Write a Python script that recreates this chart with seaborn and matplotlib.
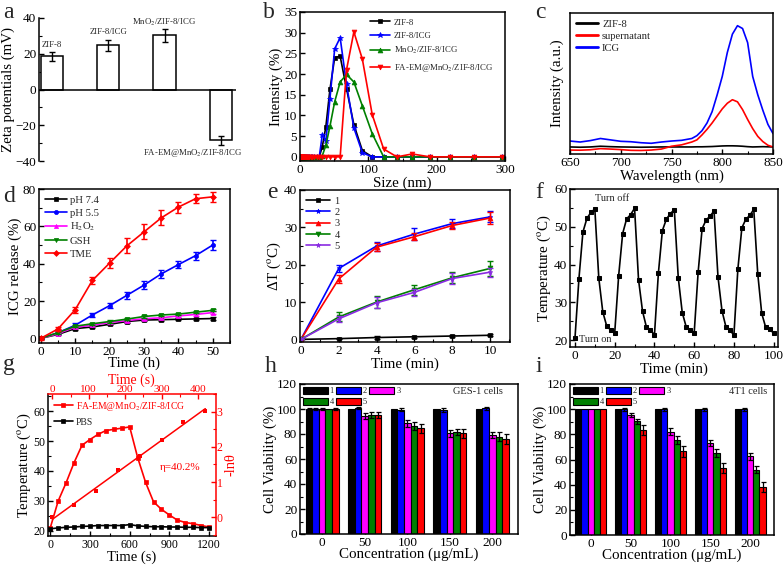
import numpy as np
import pandas as pd
import seaborn as sns
import matplotlib.pyplot as plt
import matplotlib.patches as mpatches
from matplotlib.container import BarContainer
from matplotlib.ticker import MultipleLocator

# ---------------- data ----------------
# a: zeta potentials
zeta_labels = ['ZIF-8', 'ZIF-8/ICG', 'MnO$_2$/ZIF-8/ICG', 'FA-EM@MnO$_2$/ZIF-8/ICG']
zeta_vals = [18.5, 24.8, 30.3, -28.5]
zeta_err = [2.5, 3.0, 3.5, 2.5]

# b: DLS size distribution
dls_size = [0.4, 0.463, 0.536, 0.621, 0.720, 0.833, 0.965, 1.117, 1.294, 1.499,
            1.736, 2.010, 2.328, 2.696, 3.122, 3.615, 4.187, 4.849, 5.615, 6.503,
            7.531, 8.721, 10.10, 11.70, 13.54, 15.69, 18.17, 21.04, 24.36, 28.21,
            32.67, 37.84, 43.82, 50.75, 58.77, 68.06, 78.82, 91.28, 105.7, 122.4,
            141.8, 164.2, 190.1, 220.2, 255.0, 295.3]
dls_zif8 = [0, 0, 0, 0, 0, 0, 0, 0, 0, 0, 0, 0, 0, 0, 0, 0, 0, 0, 0, 0, 0, 0, 0, 0, 0, 0, 0, 0, 0, 0,
            2.5, 7.3, 16.3, 24.0, 24.3, 16.5, 7.8, 1.5, 0, 0, 0, 0, 0, 0, 0, 0]
dls_zif8_icg = [0, 0, 0, 0, 0, 0, 0, 0, 0, 0, 0, 0, 0, 0, 0, 0, 0, 0, 0, 0, 0, 0, 0, 0, 0, 0, 0, 0, 0, 0,
                5.4, 3.8, 14.1, 26.1, 28.8, 17.5, 7.0, 1.0, 0, 0, 0, 0, 0, 0, 0, 0]
dls_mno2 = [0, 0, 0, 0, 0, 0, 0, 0, 0, 0, 0, 0, 0, 0, 0, 0, 0, 0, 0, 0, 0, 0, 0, 0, 0, 0, 0, 0, 0, 0,
            0.3, 2.8, 7.4, 13.3, 18.1, 19.9, 18.1, 12.3, 5.6, 0, 0, 0, 0, 0, 0, 0]
dls_faem = [0, 0, 0, 0, 0, 0, 0, 0, 0, 0, 0, 0, 0, 0, 0, 0, 0, 0, 0, 0, 0, 0, 0, 0, 0, 0, 0, 0, 0, 0,
            0, 0, 0, 0, 0, 21.0, 30.2, 23.6, 10.2, 1.9, 0, 0.7, 0, 0, 0, 0]

# c: absorbance spectra
wavelength = [650, 660, 670, 680, 690, 700, 710, 720, 730, 740, 750, 760, 770, 775, 780,
              785, 790, 795, 800, 805, 810, 815, 820, 825, 830, 835, 840, 845, 850]
spec_zif8 = [0.050, 0.048, 0.050, 0.055, 0.052, 0.050, 0.049, 0.048, 0.049, 0.050, 0.050, 0.050, 0.050,
             0.051, 0.051, 0.052, 0.053, 0.055, 0.057, 0.058, 0.058, 0.057, 0.055, 0.052, 0.050, 0.051,
             0.052, 0.051, 0.050]
spec_super = [0.028, 0.027, 0.030, 0.038, 0.035, 0.031, 0.026, 0.025, 0.028, 0.035, 0.055, 0.065, 0.085,
              0.100, 0.135, 0.175, 0.220, 0.270, 0.320, 0.360, 0.385, 0.370, 0.315, 0.245, 0.180, 0.125,
              0.088, 0.062, 0.050]
spec_icg = [0.092, 0.085, 0.095, 0.110, 0.100, 0.090, 0.087, 0.080, 0.076, 0.085, 0.092, 0.097, 0.110,
            0.130, 0.165, 0.220, 0.300, 0.420, 0.550, 0.720, 0.850, 0.910, 0.890, 0.790, 0.550, 0.420,
            0.310, 0.210, 0.145]

# d: ICG release
rel_time = [0, 5, 10, 15, 20, 25, 30, 35, 40, 45, 50]
rel_ph74 = [0, 2.1, 5.2, 6.1, 7.5, 9.0, 9.8, 10.0, 10.2, 10.4, 10.6]
rel_ph74_err = [0.3, 0.5, 0.6, 0.6, 0.6, 0.6, 0.6, 0.6, 0.6, 0.6, 0.6]
rel_ph55 = [0, 3.0, 7.0, 12.5, 17.5, 23.0, 28.5, 34.5, 39.5, 44.3, 50.0]
rel_ph55_err = [0.4, 0.8, 1.0, 1.2, 1.5, 1.8, 2.0, 2.0, 2.0, 2.2, 2.5]
rel_h2o2 = [0, 2.5, 6.0, 7.0, 8.5, 9.5, 10.5, 11.0, 12.0, 12.8, 13.8]
rel_h2o2_err = [0.3, 0.5, 0.6, 0.6, 0.6, 0.6, 0.6, 0.6, 0.6, 0.6, 0.6]
rel_gsh = [0, 3.0, 6.5, 7.8, 9.0, 10.3, 11.7, 12.5, 13.0, 14.0, 15.0]
rel_gsh_err = [0.3, 0.5, 0.6, 0.6, 0.6, 0.6, 0.6, 0.6, 0.6, 0.6, 0.6]
rel_tme = [0, 5.0, 15.3, 31.0, 40.3, 49.5, 57.0, 64.5, 70.3, 74.8, 75.8]
rel_tme_err = [0.8, 1.0, 1.5, 2.0, 2.5, 4.0, 4.0, 4.0, 3.0, 2.5, 2.5]

# e: temperature increase
heat_time = [0, 2, 4, 6, 8, 10]
dt_1 = [0, 0.2, 0.5, 0.7, 0.9, 1.1]
dt_1_err = [0, 0.2, 0.3, 0.3, 0.3, 0.3]
dt_2 = [0, 19.0, 25.0, 28.2, 31.0, 32.8]
dt_2_err = [0, 1.0, 1.2, 1.5, 1.2, 1.5]
dt_3 = [0, 16.2, 24.7, 27.5, 30.5, 32.5]
dt_3_err = [0, 1.0, 1.0, 1.0, 1.0, 1.5]
dt_4 = [0, 6.0, 10.0, 13.3, 16.5, 19.0]
dt_4_err = [0, 1.2, 1.5, 1.3, 1.5, 2.0]
dt_5 = [0, 5.5, 9.8, 12.6, 16.3, 18.0]
dt_5_err = [0, 0.8, 1.5, 1.0, 1.5, 1.2]

# f: on/off cycles
cycle_time = [0, 2, 4, 6, 8, 10, 12, 14, 16, 18, 20, 22, 24, 26, 28, 30, 32, 34, 36, 38, 40,
              42, 44, 46, 48, 50, 52, 54, 56, 58, 60, 62, 64, 66, 68, 70, 72, 74, 76, 78, 80,
              82, 84, 86, 88, 90, 92, 94, 96, 98, 100]
cycle_temp = [20.5, 36.3, 48.6, 52.2, 53.8, 54.7, 36.4, 27.5, 23.7, 22.7, 21.9,
              37.1, 48.2, 52.1, 53.2, 54.9, 36.0, 27.7, 23.4, 22.8, 21.3,
              37.8, 49.0, 52.0, 53.5, 54.5, 36.5, 27.3, 23.5, 22.6, 21.8,
              38.0, 49.5, 51.8, 52.8, 54.2, 36.7, 27.8, 23.5, 22.7, 21.3,
              38.8, 49.7, 52.0, 53.0, 54.6, 37.6, 27.1, 23.4, 23.0, 21.8]

# g: photothermal conversion
g_time = [0, 60, 120, 180, 240, 300, 360, 420, 480, 540, 600, 660, 720, 780, 840, 900,
          960, 1020, 1080, 1140, 1200]
g_faem = [21.0, 30.0, 36.1, 42.8, 48.6, 50.5, 52.2, 53.5, 53.9, 54.3, 54.7, 44.5, 36.2,
          29.7, 27.2, 25.3, 23.6, 22.8, 22.4, 21.8, 21.3]
g_pbs = [20.7, 21.0, 21.2, 21.3, 21.5, 21.6, 21.8, 21.8, 21.8, 21.8, 22.1, 21.7, 21.5,
         21.4, 21.4, 21.3, 21.3, 21.2, 21.2, 21.1, 21.1]
fit_time = [0, 60, 120, 180, 240, 300, 360, 420]
fit_lntheta = [0.0, 0.34, 0.75, 1.35, 1.75, 2.20, 2.70, 3.02]

# h, i: cell viability
conc_labels = ['0', '50', '100', '150', '200']
group_labels = ['1', '2', '3', '4', '5']
bar_colors = ['#000000', '#0000FF', '#FF00FF', '#008000', '#FF0000']
ges_vals = [[100, 100, 100, 100, 100],
            [100, 101, 99.5, 99, 100.5],
            [100, 94.5, 88.5, 80.5, 79],
            [100, 95, 86.5, 81.5, 78],
            [100, 95, 84.5, 80.5, 76]]
ges_err = [[1, 0, 0, 0, 0],
           [1, 1, 1, 1.5, 1.5],
           [1, 2.5, 2.5, 2.5, 2.5],
           [0, 2.5, 3.5, 2.5, 3.5],
           [1, 2.5, 3.5, 3.5, 4]]
t41_vals = [[100, 100, 100, 100, 100],
            [100, 99.8, 99.8, 99.8, 99.8],
            [100, 95.5, 82.2, 73.2, 62.5],
            [100, 90.3, 75.5, 65, 52],
            [100, 83.5, 66.5, 53, 38.5]]
t41_err = [[0, 0, 0, 0, 0],
           [0, 1, 1, 1, 1],
           [0, 1.5, 2.5, 2.5, 3],
           [0, 2, 3, 3, 3],
           [0, 4, 4.5, 4, 4]]

# ---------------- style ----------------
sns.set_theme(style="ticks")
plt.rcParams['font.family'] = ['Liberation Serif', 'DejaVu Serif']
plt.rcParams['mathtext.fontset'] = 'stix'
plt.rcParams.update({
    'xtick.direction': 'in', 'ytick.direction': 'in',
    'xtick.major.size': 3.5, 'ytick.major.size': 3.5,
    'xtick.minor.size': 2, 'ytick.minor.size': 2,
    'xtick.major.width': 1, 'ytick.major.width': 1,
    'xtick.minor.width': 0.8, 'ytick.minor.width': 0.8,
    'axes.linewidth': 1.1, 'axes.edgecolor': 'black',
    'xtick.color': 'black', 'ytick.color': 'black',
    'xtick.labelsize': 9.5, 'ytick.labelsize': 9.5,
    'axes.labelsize': 10.8, 'axes.labelcolor': 'black',
    'xtick.major.pad': 2, 'ytick.major.pad': 2,
    'axes.labelpad': 0.5,
})

W, H = 783, 565
fig = plt.figure(figsize=(W / 100, H / 100), dpi=100)


def box(l, t, r, b):
    return fig.add_axes([l / W, 1 - b / H, (r - l) / W, (b - t) / H])


def letter(x, y, s):
    fig.text(x / W, 1 - y / H, s, fontsize=17, va='baseline', ha='left')


def line(ax, x, y, color, marker, label, ms=3.5):
    sns.lineplot(x=x, y=y, color=color, marker=marker, markersize=ms, markeredgecolor=color,
                 markeredgewidth=0.5, lw=1.2, label=label, errorbar=None, ax=ax)


# ---- a ----
ax = box(39, 18, 236, 161)
sns.barplot(x=zeta_labels, y=zeta_vals, color='white', edgecolor='black', linewidth=1.1,
            width=0.4, saturation=1, errorbar=None, ax=ax)
ax.errorbar(range(4), zeta_vals, yerr=zeta_err, fmt='none', ecolor='black', elinewidth=1,
            capsize=2.5, capthick=1)
ax.set_xlim(-0.23, 3.27)
ax.set_ylim(-40, 40)
ax.axhline(0, color='black', lw=1.1)
for s in ['top', 'right', 'bottom']:
    ax.spines[s].set_visible(False)
ax.set_xticks([])
ax.set_xlabel('')
ax.yaxis.set_major_locator(MultipleLocator(20))
ax.yaxis.set_minor_locator(MultipleLocator(10))
ax.set_ylabel('Zeta potentials (mV)')
for xp, yp, s in zip([0, 1, 2, 2.5], [25.1, 32.2, 37.8, -35.5], zeta_labels):
    ax.text(xp, yp, s, fontsize=6.3, ha='center', va='center')
letter(3, 18, 'a')

# ---- b ----
ax = box(300, 12, 505, 161)
line(ax, dls_size, dls_zif8, 'black', 's', 'ZIF-8')
line(ax, dls_size, dls_zif8_icg, '#0000FF', '*', 'ZIF-8/ICG', ms=4)
line(ax, dls_size, dls_mno2, '#008000', '^', 'MnO$_2$/ZIF-8/ICG')
line(ax, dls_size, dls_faem, '#FF0000', 'v', 'FA-EM@MnO$_2$/ZIF-8/ICG')
ax.set_xlim(0, 300)
ax.set_ylim(-1, 35)
ax.xaxis.set_major_locator(MultipleLocator(100))
ax.xaxis.set_minor_locator(MultipleLocator(50))
ax.yaxis.set_major_locator(MultipleLocator(5))
ax.set_xlabel('Size (nm)')
ax.set_ylabel('Intensity (%)')
ax.legend(loc='upper right', bbox_to_anchor=(0.98, 1.01), frameon=False, fontsize=6.3,
          handlelength=2.3, labelspacing=0.6, handletextpad=0.4)
letter(263, 18, 'b')

# ---- c ----
ax = box(570, 13, 773, 154)
sns.lineplot(x=wavelength, y=spec_zif8, color='black', lw=1.2, label='ZIF-8', ax=ax)
sns.lineplot(x=wavelength, y=spec_super, color='#FF0000', lw=1.2, label='supernatant', ax=ax)
sns.lineplot(x=wavelength, y=spec_icg, color='#0000FF', lw=1.2, label='ICG', ax=ax)
ax.set_xlim(650, 850)
ax.set_ylim(0, 1)
ax.set_yticks([])
ax.xaxis.set_major_locator(MultipleLocator(50))
ax.xaxis.set_minor_locator(MultipleLocator(25))
ax.set_xlabel('Wavelength (nm)')
ax.set_ylabel('Intensity (a.u.)', labelpad=4)
leg = ax.legend(loc='upper left', frameon=False, fontsize=7.7, handlelength=2.0,
                labelspacing=0.25, handletextpad=0.4, borderaxespad=0.2)
for h in leg.get_lines():
    h.set_linewidth(2)
letter(535, 18, 'c')

# ---- d ----
ax = box(39, 189, 230, 343)
for y, e, c, m, lab in [(rel_ph74, rel_ph74_err, 'black', 's', 'pH 7.4'),
                        (rel_ph55, rel_ph55_err, '#0000FF', 'o', 'pH 5.5'),
                        (rel_h2o2, rel_h2o2_err, '#FF00FF', '^', 'H$_2$O$_2$'),
                        (rel_gsh, rel_gsh_err, '#008000', 'v', 'GSH'),
                        (rel_tme, rel_tme_err, '#FF0000', 'D', 'TME')]:
    line(ax, rel_time, y, c, m, lab, ms=3)
    ax.errorbar(rel_time, y, yerr=e, fmt='none', ecolor=c, elinewidth=1.2, capsize=2, capthick=1)
ax.set_xlim(-0.5, 55)
ax.set_ylim(-2.5, 80)
ax.xaxis.set_major_locator(MultipleLocator(10))
ax.xaxis.set_minor_locator(MultipleLocator(5))
ax.yaxis.set_major_locator(MultipleLocator(20))
ax.yaxis.set_minor_locator(MultipleLocator(10))
ax.set_xlabel('Time (h)', labelpad=-0.8)
ax.set_ylabel('ICG release (%)')
ax.legend(loc='upper left', frameon=False, fontsize=7.7, handlelength=2.0,
          labelspacing=0.3, handletextpad=0.3, borderaxespad=0.2)
letter(3, 202, 'd')

# ---- e ----
ax = box(300, 190, 510, 342)
for y, e, c, m, lab in [(dt_1, dt_1_err, 'black', 's', '1'),
                        (dt_2, dt_2_err, '#0000FF', '*', '2'),
                        (dt_3, dt_3_err, '#FF0000', '^', '3'),
                        (dt_4, dt_4_err, '#008000', 'v', '4'),
                        (dt_5, dt_5_err, '#8A2BE2', '*', '5')]:
    line(ax, heat_time, y, c, m, lab, ms=3.5)
    ax.errorbar(heat_time, y, yerr=e, fmt='none', ecolor=c, elinewidth=1.0, capsize=2, capthick=1)
ax.set_xlim(-0.05, 11.05)
ax.set_ylim(-0.7, 40)
ax.xaxis.set_major_locator(MultipleLocator(2))
ax.xaxis.set_minor_locator(MultipleLocator(1))
ax.yaxis.set_major_locator(MultipleLocator(10))
ax.yaxis.set_minor_locator(MultipleLocator(5))
ax.set_xlabel('Time (min)')
ax.set_ylabel(r'ΔT ($^{\mathrm{o}}$C)')
ax.legend(loc='upper left', frameon=False, fontsize=7.5, handlelength=2.3,
          labelspacing=0.2, handletextpad=0.4, borderaxespad=0.2)
letter(267, 198, 'e')

# ---- f ----
ax = box(570, 189, 778, 347)
sns.lineplot(x=cycle_time, y=cycle_temp, color='black', marker='s', markersize=3.3,
             markeredgecolor='black', lw=1.2, errorbar=None, ax=ax)
ax.set_xlim(-2.5, 102.2)
ax.set_ylim(18.2, 60)
ax.xaxis.set_major_locator(MultipleLocator(20))
ax.xaxis.set_minor_locator(MultipleLocator(10))
ax.yaxis.set_major_locator(MultipleLocator(10))
ax.yaxis.set_minor_locator(MultipleLocator(5))
ax.set_xlabel('Time (min)')
ax.set_ylabel(r'Temperature ($^{\mathrm{o}}$C)')
ax.text(10, 57.4, 'Turn off', fontsize=7.5, ha='left', va='center')
ax.text(2, 20.2, 'Turn on', fontsize=7.5, ha='left', va='center')
letter(535, 198, 'f')

# ---- g ----
ax = box(48, 394, 215.5, 536)
line(ax, g_time, g_faem, '#FF0000', 's', 'FA-EM@MnO$_2$/ZIF-8/ICG', ms=3)
line(ax, g_time, g_pbs, 'black', 's', 'PBS', ms=3)
ax.set_xlim(-17, 1248)
ax.set_ylim(18.3, 65.7)
ax.xaxis.set_major_locator(MultipleLocator(300))
ax.xaxis.set_minor_locator(MultipleLocator(150))
ax.yaxis.set_major_locator(MultipleLocator(10))
ax.yaxis.set_minor_locator(MultipleLocator(5))
ax.tick_params(axis='both', labelsize=8.5)
ax.set_xlabel('Time (s)', fontsize=10.5, labelpad=0)
ax.set_ylabel(r'Temperature ($^{\mathrm{o}}$C)', fontsize=10.5)
ax.spines['top'].set_color('#FF0000')
ax.spines['right'].set_color('#FF0000')
ax.text(828, 41.2, 'η=40.2%', color='#FF0000', fontsize=8, ha='left', va='center')
leg = ax.legend(loc='upper left', frameon=False, fontsize=6.9, handlelength=2.0,
                labelspacing=0.5, handletextpad=0.3, borderaxespad=0.2)
leg.get_texts()[0].set_color('#FF0000')

ax2 = fig.add_axes(ax.get_position(), frameon=False)
ax2.xaxis.tick_top()
ax2.xaxis.set_label_position('top')
ax2.yaxis.tick_right()
ax2.yaxis.set_label_position('right')
sns.scatterplot(x=fit_time, y=fit_lntheta, color='#FF0000', marker='s', s=9, linewidth=0, ax=ax2)
coef = np.polyfit(fit_time, fit_lntheta, 1)
fit_x = np.array([fit_time[0], fit_time[-1]])
ax2.plot(fit_x, np.polyval(coef, fit_x), color='#FF0000', lw=1.1)
ax2.set_xlim(-12, 448)
ax2.set_ylim(-0.53, 3.5)
ax2.xaxis.set_major_locator(MultipleLocator(100))
ax2.xaxis.set_minor_locator(MultipleLocator(50))
ax2.yaxis.set_major_locator(MultipleLocator(1))
ax2.yaxis.set_minor_locator(MultipleLocator(0.5))
ax2.tick_params(which='both', colors='#FF0000', labelcolor='#FF0000', labelsize=8.5, pad=1)
ax2.tick_params(axis='x', labelsize=8, pad=0)
ax2.set_xlabel('Time (s)', color='#FF0000', fontsize=10, labelpad=1.0)
ax2.set_ylabel('-lnθ', color='#FF0000', fontsize=10.5, rotation=90, labelpad=1)
letter(3, 370, 'g')


# ---- h, i ----
def viability(ax, vals, errs, cell_text, text_x):
    df = pd.DataFrame([(c, g, vals[k][j]) for k, g in enumerate(group_labels)
                       for j, c in enumerate(conc_labels)], columns=['conc', 'grp', 'val'])
    sns.barplot(data=df, x='conc', y='val', hue='grp', order=conc_labels, hue_order=group_labels,
                palette=bar_colors, edgecolor='black', linewidth=0.8, width=0.78, saturation=1,
                errorbar=None, legend=False, ax=ax)
    bars = [c for c in ax.containers if isinstance(c, BarContainer)]
    for k, cont in enumerate(bars):
        for j, p in enumerate(cont.patches):
            if errs[k][j] > 0:
                ax.errorbar(p.get_x() + p.get_width() / 2, p.get_height(), yerr=errs[k][j],
                            fmt='none', ecolor='black', elinewidth=0.9, capsize=1.8, capthick=0.9)
    ax.set_xlim(-0.52, 4.6)
    ax.set_ylim(0, 120)
    ax.yaxis.set_major_locator(MultipleLocator(20))
    ax.yaxis.set_minor_locator(MultipleLocator(10))
    ax.set_xlabel('Concentration (μg/mL)', labelpad=-1)
    ax.set_ylabel('Cell Viability (%)')
    handles = [mpatches.Patch(facecolor=c, edgecolor='black', lw=0.8, label=l)
               for c, l in zip(bar_colors, group_labels)]
    handles = [handles[i] for i in [0, 3, 1, 4, 2]]
    ax.legend(handles=handles, ncol=3, loc='upper left', frameon=False, fontsize=6,
              handlelength=3.0, handleheight=0.95, columnspacing=0.25, handletextpad=0.25,
              labelspacing=0.35, borderaxespad=0.1, borderpad=0.2)
    ax.text(text_x, 0.95, cell_text, transform=ax.transAxes, fontsize=7.5, ha='right', va='center')


ax = box(300, 384, 518, 534)
viability(ax, ges_vals, ges_err, 'GES-1 cells', 0.93)
letter(265, 372, 'h')

ax = box(570, 384, 774, 535)
viability(ax, t41_vals, t41_err, '4T1 cells', 0.965)
letter(535, 372, 'i')

fig.savefig('out.png', dpi=100)
